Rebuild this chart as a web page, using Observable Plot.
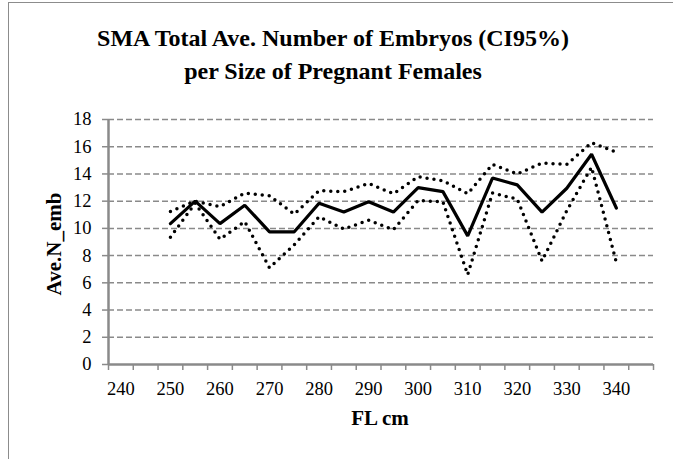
<!DOCTYPE html>
<html>
<head>
<meta charset="utf-8">
<script src="https://cdn.jsdelivr.net/npm/d3@7"></script>
<script src="https://cdn.jsdelivr.net/npm/@observablehq/plot@0.6"></script>
<style>
  body { margin: 0; background: #fff; }
  #wrap { position: relative; width: 673px; height: 459px; overflow: hidden; background: #fff; color: #000;
          font-family: 'Liberation Serif', serif; }
  #frame { position: absolute; left: 8px; top: 2px; width: 720px; height: 520px;
           border-left: 1px solid #8c8c8c; border-top: 1px solid #8c8c8c; }
  #title { position: absolute; left: 0; top: 22px; width: 666px; text-align: center;
           font-weight: bold; font-size: 24px; line-height: 33px; }
  #chart { position: absolute; left: 0; top: 95px; }
  #xtitle { position: absolute; left: 280px; width: 200px; top: 404px; text-align: center;
            font-weight: bold; font-size: 21px; line-height: 28px; }
  #ytitle { position: absolute; left: 54px; top: 244px; transform: translate(-50%, -50%) rotate(-90deg);
            font-weight: bold; font-size: 21px; line-height: 28px; white-space: nowrap; }
</style>
</head>
<body>
<div id="wrap">
  <div id="frame"></div>
  <div id="title">SMA Total Ave. Number of Embryos (CI95%)<br>per Size of Pregnant Females</div>
  <div id="chart"></div>
  <div id="xtitle">FL cm</div>
  <div id="ytitle">Ave.N_emb</div>
</div>
<script>
// Fork length classes (cm)
const fl = [250, 255, 260, 265, 270, 275, 280, 285, 290, 295, 300, 305, 310, 315, 320, 325, 330, 335, 340];
// Average number of embryos
const aveN = [10.35, 12.0, 10.35, 11.7, 9.75, 9.75, 11.85, 11.2, 11.95, 11.2, 13.0, 12.7, 9.45, 13.7, 13.2, 11.2, 12.95, 15.45, 11.5];
// 95% CI upper bound
const ciUpper = [11.25, 12.0, 11.6, 12.6, 12.4, 11.05, 12.77, 12.7, 13.3, 12.55, 13.8, 13.5, 12.55, 14.7, 14.0, 14.8, 14.7, 16.3, 15.6];
// 95% CI lower bound
const ciLower = [9.35, 11.85, 9.2, 10.5, 7.1, 8.8, 10.85, 9.95, 10.6, 9.9, 12.05, 11.95, 6.6, 12.6, 12.15, 7.6, 11.3, 14.5, 7.5];
// Axis ticks
const yTicks = [0, 2, 4, 6, 8, 10, 12, 14, 16, 18];
const xTickLabels = [240, 250, 260, 270, 280, 290, 300, 310, 320, 330, 340];
const xCategoryEdges = d3.range(237.5, 348, 5);

const rows = fl.map((x, i) => ({fl: x, mean: aveN[i], hi: ciUpper[i], lo: ciLower[i]}));
const grey = "#8a8a8a";

const chart = Plot.plot({
  width: 673,
  height: 364,
  marginLeft: 108,
  marginRight: 20,
  marginTop: 24,
  marginBottom: 95,
  style: {fontFamily: "'Liberation Serif', serif", fontSize: "18.5px", color: "#000", background: "transparent", overflow: "visible"},
  x: {domain: [237.5, 347.5], label: null},
  y: {domain: [0, 18], label: null},
  marks: [
    Plot.ruleY(yTicks.filter(d => d > 0), {stroke: grey, strokeWidth: 1.5, strokeDasharray: "6,3"}),
    Plot.ruleY([0], {stroke: grey, strokeWidth: 2.5}),
    Plot.ruleX([237.5], {y1: 0, y2: 18, stroke: grey, strokeWidth: 2.5}),
    Plot.axisY({ticks: yTicks, tickSize: 6, tickFormat: () => "", stroke: grey, strokeWidth: 1.5, label: null}),
    Plot.axisY({ticks: yTicks, tickSize: 0, tickPadding: 17, label: null}),
    Plot.axisX({ticks: xCategoryEdges, tickSize: 6, tickFormat: () => "", stroke: grey, strokeWidth: 1.5, label: null}),
    Plot.axisX({ticks: xTickLabels, tickSize: 0, tickPadding: 17, label: null}),
    Plot.line(rows, {x: "fl", y: "hi", stroke: "#000", strokeWidth: 3.5, strokeDasharray: "0 7", strokeLinecap: "round"}),
    Plot.line(rows, {x: "fl", y: "lo", stroke: "#000", strokeWidth: 3.5, strokeDasharray: "0 7", strokeLinecap: "round"}),
    Plot.line(rows, {x: "fl", y: "mean", stroke: "#000", strokeWidth: 3.2, strokeLinejoin: "miter"})
  ]
});
document.getElementById("chart").appendChild(chart);
</script>
</body>
</html>
